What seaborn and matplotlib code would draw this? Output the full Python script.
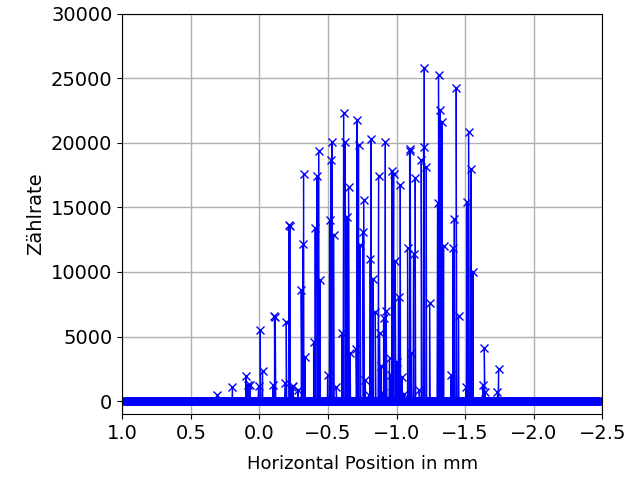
import numpy as np
import pandas as pd
import matplotlib
matplotlib.use('Agg')
import matplotlib.pyplot as plt
import seaborn as sns

# horizontal scan: positions in mm, step 0.005 mm, zero counts outside the slits
scan_start = 1.0
scan_stop = -2.5
scan_step = 0.005

# counts (position in mm, Zählrate)
peak_pos = [0.31, 0.196, 0.098, 0.083, 0.067, 0.006, -0.006, -0.023,
            -0.099, -0.11, -0.116,
            -0.189, -0.196, -0.215, -0.222, -0.237, -0.245,
            -0.28, -0.305, -0.318, -0.322, -0.334,
            -0.395, -0.407, -0.42, -0.432, -0.444,
            -0.497, -0.512, -0.522, -0.529, -0.541, -0.56,
            -0.602, -0.614, -0.626, -0.638, -0.65, -0.662,
            -0.706, -0.711, -0.723, -0.735, -0.755, -0.76, -0.772, -0.796,
            -0.808, -0.813, -0.828, -0.845, -0.869, -0.876, -0.889, -0.898,
            -0.905, -0.918, -0.925, -0.949, -0.959, -0.967, -0.979, -0.99,
            -1.003, -1.015, -1.027, -1.04, -1.056,
            -1.08, -1.095, -1.10, -1.105, -1.124, -1.136, -1.165,
            -1.18, -1.197, -1.202, -1.217, -1.241,
            -1.299, -1.306, -1.319, -1.331, -1.343,
            -1.397, -1.411, -1.421, -1.435, -1.452,
            -1.508, -1.513, -1.525, -1.543, -1.557,
            -1.63, -1.64, -1.645,
            -1.736, -1.744]
peak_counts = [470, 1060, 1940, 1240, 1240, 1160, 5500, 2350,
               1240, 6600, 6550,
               1420, 6100, 13650, 13550, 1110, 1160,
               850, 8600, 12170, 17600, 3430,
               4600, 13400, 17440, 19400, 9380,
               2000, 14030, 18680, 20100, 12870, 1110,
               5300, 22350, 20100, 14290, 16560, 3700,
               4000, 21780, 19850, 12090, 13130, 15580, 1630, 465,
               10980, 20290, 9430, 6920, 17440, 5300, 2710, 600,
               6400, 20100, 7000, 3300, 2015, 17850, 17600, 10880,
               3050, 8090, 16740, 1880, 540,
               11840, 19500, 19400, 3750, 11400, 17260, 850,
               18680, 19710, 25840, 18160, 7570,
               15320, 25270, 22560, 21650, 12040,
               2015, 11840, 14110, 24240, 6610,
               1110, 15400, 20830, 17980, 10020,
               1240, 4080, 720,
               720, 2460]

grid_pos = np.round(np.arange(scan_start, scan_stop - scan_step / 2, -scan_step), 4)
df = pd.concat([
    pd.DataFrame({'pos': grid_pos, 'counts': np.zeros(len(grid_pos))}),
    pd.DataFrame({'pos': peak_pos, 'counts': peak_counts}),
])
df = df.sort_values('pos', ascending=False, kind='stable')

fig, ax = plt.subplots(figsize=(6.3, 4.78), dpi=100)
fig.subplots_adjust(left=0.194, right=0.956, top=0.971, bottom=0.134)

sns.lineplot(data=df, x='pos', y='counts', sort=False, estimator=None,
             color='b', linewidth=0.9, marker='x', markersize=6,
             markeredgecolor='b', markeredgewidth=1, ax=ax)

ax.set_xlim(1.0, -2.5)
ax.set_ylim(-1000, 30000)
ax.set_xticks([1.0, 0.5, 0.0, -0.5, -1.0, -1.5, -2.0, -2.5])
ax.set_yticks([0, 5000, 10000, 15000, 20000, 25000, 30000])
ax.tick_params(labelsize=14)
ax.grid(True, color='#b0b0b0', linewidth=1)
ax.set_axisbelow(True)
ax.set_xlabel('Horizontal Position in mm', fontsize=13, labelpad=9)
ax.set_ylabel('Zählrate', fontsize=14)

fig.savefig('out.png', dpi=100)
